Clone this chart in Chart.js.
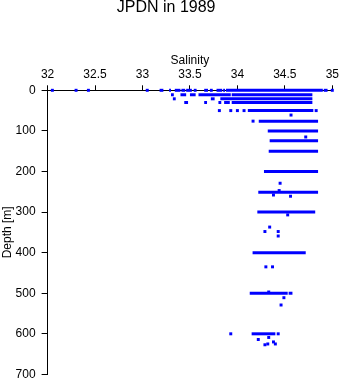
<!DOCTYPE html>
<html>
<head>
<meta charset="utf-8">
<title>JPDN in 1989</title>
<script src="https://cdn.jsdelivr.net/npm/chart.js@4.4.0/dist/chart.umd.min.js"></script>
<style>
  body { margin: 0; background: #ffffff; }
</style>
</head>
<body>
<canvas id="myChart" width="341" height="384"></canvas>
<script>
var FONT = "'Liberation Sans', Arial, Helvetica, sans-serif";
var BLUE = "#0000ff";

// tick values for the two axes
var salinityTicks = [32, 32.5, 33, 33.5, 34, 34.5, 35];
var depthTicks = [0, 100, 200, 300, 400, 500, 600, 700];

// single samples (salinity, depth)
var pointSalinity = [32.05, 32.30, 32.43, 33.05, 35.00,
  33.81, 33.93, 34.00, 34.07, 34.83,
  34.565, 34.165, 34.72, 34.45, 34.44, 34.38, 34.56,
  34.53, 34.34, 34.29, 34.43, 34.43,
  34.30, 34.37, 34.33, 34.49, 34.46,
  33.93, 34.43, 34.33, 34.22, 34.38, 34.32, 34.40, 34.29];
var pointDepth = [0, 0, 0, 0, 0,
  50, 50, 50, 50, 50,
  61, 76, 115, 229, 247, 258, 261,
  307, 337, 348, 348, 359,
  435, 435, 497, 511, 529,
  600, 600, 609, 614, 620, 625, 625, 627];

// runs of samples so close together that they read as a bar: depth, from, to
var runDepth = [0, 0, 0, 0, 0, 0, 0, 0, 0, 0, 0, 0,
  11, 11, 11, 11, 11,
  21, 21, 21,
  30, 30, 30, 30, 30,
  50, 76, 100, 124, 150, 200, 251, 300, 400, 500, 500, 600];
var runFrom = [33.18, 33.28, 33.34, 33.41, 33.46, 33.54, 33.65, 33.71, 33.78, 33.85, 33.88, 34.91,
  33.30, 33.40, 33.50, 33.59, 33.94,
  33.32, 33.72, 33.82,
  33.44, 33.65, 33.80, 33.86, 33.94,
  34.11, 34.225, 34.32, 34.34, 34.33, 34.28, 34.22, 34.21, 34.16, 34.13, 34.54, 34.15];
var runTo = [33.22, 33.30, 33.40, 33.45, 33.52, 33.57, 33.69, 33.74, 33.84, 33.87, 34.90, 34.95,
  33.33, 33.46, 33.56, 33.93, 34.79,
  33.35, 33.76, 34.79,
  33.48, 33.68, 33.83, 33.92, 34.79,
  34.80, 34.85, 34.85, 34.85, 34.85, 34.85, 34.85, 34.82, 34.72, 34.53, 34.58, 34.40];

var datasets = [];

// every run becomes a short two point line
for (var i = 0; i < runDepth.length; i++) {
  datasets.push({
    type: 'line',
    data: [{x: runFrom[i], y: runDepth[i]}, {x: runTo[i], y: runDepth[i]}],
    borderColor: BLUE,
    borderWidth: 3,
    pointRadius: 0,
    fill: false,
    clip: false
  });
}

var points = [];
for (var j = 0; j < pointSalinity.length; j++) {
  points.push({x: pointSalinity[j], y: pointDepth[j]});
}
datasets.push({
  type: 'scatter',
  data: points,
  pointStyle: 'rect',
  pointRadius: 2.1,
  pointBorderWidth: 0,
  backgroundColor: BLUE,
  clip: false
});

const ctx = document.getElementById('myChart');
const myChart = new Chart(ctx, {
  type: 'scatter',
  data: { datasets: datasets },
  options: {
    responsive: false,
    devicePixelRatio: 1,
    animation: false,
    layout: { padding: { left: 0, top: 0, right: 8.7, bottom: 9.6 } },
    plugins: {
      legend: { display: false },
      tooltip: { enabled: false },
      title: {
        display: true,
        text: 'JPDN in 1989',
        color: '#000',
        font: { family: FONT, size: 16, weight: 'normal', lineHeight: 1 },
        padding: { top: 0, bottom: 0 }
      }
    },
    scales: {
      x: {
        type: 'linear',
        position: 'top',
        min: 32,
        max: 35,
        afterBuildTicks: function(scale) {
          scale.ticks = salinityTicks.map(function(v) { return {value: v}; });
        },
        // fixed box so the plot area lands where the original has it
        afterFit: function(scale) {
          scale.height = 74.3;
          scale.paddingLeft = 0;
          scale.paddingRight = 0;
        },
        grid: { display: true, drawOnChartArea: false, drawTicks: true, tickLength: 5, color: '#000' },
        border: { display: true, color: '#000', width: 1 },
        ticks: {
          color: '#000', padding: 3.5, maxRotation: 0,
          font: { family: FONT, size: 12 },
          callback: function(value) { return String(value); }
        },
        title: {
          display: true,
          text: 'Salinity',
          color: '#000',
          font: { family: FONT, size: 12 },
          padding: { top: 37, bottom: 0 }
        }
      },
      y: {
        type: 'linear',
        reverse: true,
        min: 0,
        max: 700,
        afterBuildTicks: function(scale) {
          scale.ticks = depthTicks.map(function(v) { return {value: v}; });
        },
        afterFit: function(scale) {
          scale.width = 47.6;
          scale.paddingTop = 0;
          scale.paddingBottom = 0;
        },
        grid: { display: true, drawOnChartArea: false, drawTicks: true, tickLength: 6, color: '#000' },
        border: { display: true, color: '#000', width: 1 },
        ticks: {
          color: '#000', padding: 6,
          font: { family: FONT, size: 12 },
          callback: function(value) { return String(value); }
        },
        title: {
          display: true,
          text: 'Depth [m]',
          color: '#000',
          font: { family: FONT, size: 12 },
          padding: { top: 0, bottom: 0 }
        }
      }
    }
  }
});
</script>
</body>
</html>
